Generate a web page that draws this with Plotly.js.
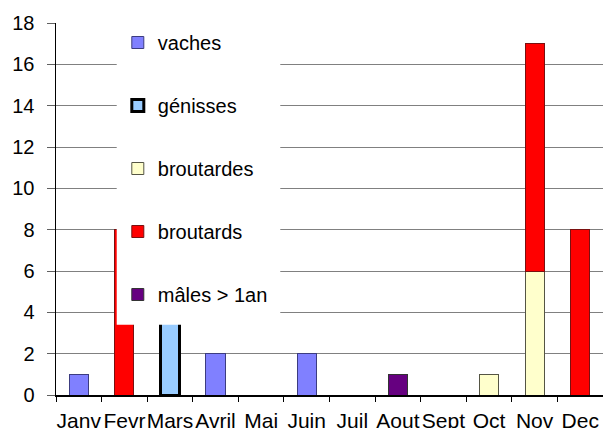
<!DOCTYPE html>
<html><head><meta charset="utf-8">
<script src="https://cdn.plot.ly/plotly-3.0.1.min.js"></script>
<style>html,body{margin:0;padding:0;background:#fff}#chart{width:603px;height:428px}</style>
</head><body><div id="chart"></div>
<script>
var months = ["Janv","Fevr","Mars","Avril","Mai","Juin","Juil","Aout","Sept","Oct","Nov","Dec"];
var vaches     = [1,null,null,2,null,2,null,null,null,null,null,null];
var genisses   = [null,null,4,null,null,null,null,null,null,null,null,null];
var broutardes = [null,null,null,null,null,null,null,null,null,1,6,null];
var broutards  = [null,8,null,null,null,null,null,null,null,null,11,8];
var males      = [null,null,null,null,null,null,null,1,null,null,null,null];
var yTicks = [0,2,4,6,8,10,12,14,16,18];

function mk(name, vals, fill, lc, lw){
  return {type:'bar', name:name, x:months, y:vals, legendgroup:name,
    marker:{color:fill, line:{color:lc, width:lw}}, hoverinfo:'skip'};
}
var data = [
  mk('vaches', vaches, '#8080ff', '#3c3c80', 1),
  mk('génisses', genisses, '#99ccff', '#000000', 3),
  mk('broutardes', broutardes, '#ffffcc', '#555544', 1),
  mk('broutards', broutards, '#ff0000', '#7a1010', 1),
  mk('mâles > 1an', males, '#660080', '#333333', 1)
];
var layout = {
  width:603, height:428, barmode:'stack', bargap:0.58,
  margin:{l:56, r:0, t:23, b:33},
  paper_bgcolor:'#fff', plot_bgcolor:'#fff',
  font:{family:'Liberation Sans, Arial, sans-serif', size:20, color:'#000'},
  xaxis:{type:'category', showline:true, linecolor:'#000', linewidth:1.5,
    ticks:'outside', tickson:'boundaries', ticklen:5, tickcolor:'#000',
    tickangle:0, showgrid:false, tickfont:{size:21}, ticklabelstandoff:6},
  yaxis:{range:[0,18], tickvals:yTicks, showline:true, linecolor:'#000', linewidth:1.5,
    ticks:'outside', ticklen:8, tickcolor:'#606060', showgrid:true, gridcolor:'#808080',
    gridwidth:1, zeroline:false, tickfont:{size:20}, ticklabelstandoff:8},
  shapes:[{type:'rect', layer:'above', xref:'paper', yref:'y', x0:0.111, x1:0.41, y0:3.4, y1:18,
    fillcolor:'#ffffff', line:{width:0}}],
  showlegend:true,
  legend:{x:0.113, xanchor:'left', y:1.0, yanchor:'top', bgcolor:'rgba(255,255,255,0)', borderwidth:0,
    traceorder:'grouped', tracegroupgap:34, font:{size:20}, itemwidth:30}
};
Plotly.newPlot('chart', data, layout, {displayModeBar:false, staticPlot:true});
</script></body></html>
